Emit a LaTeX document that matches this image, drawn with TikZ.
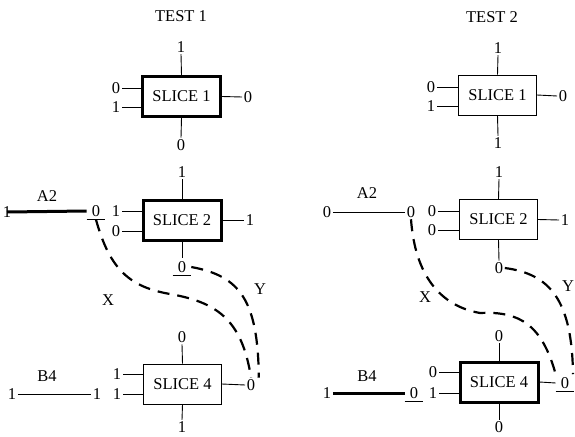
\documentclass[tikz,border=0pt]{standalone}
\usepackage{fontspec}
\setmainfont{Liberation Serif}
\begin{document}
\begin{tikzpicture}[x=1pt,y=-1pt,
  every node/.style={font=\fontsize{16.5}{16.5}\selectfont},
  lbl/.style={inner sep=1.5pt},
  ul/.style={inner xsep=5pt,inner ysep=3pt},
  slice/.style={draw,line width=0.9pt,minimum width=78pt,minimum height=40pt,inner sep=0pt},
  hot/.style={line width=3pt},
  pin/.style={line width=0.9pt},
  bus/.style={line width=3pt},
  wire/.style={line width=0.9pt},
  dsh/.style={line width=2.2pt,dash pattern=on 12pt off 8pt}]
\useasboundingbox (0,0) rectangle (575,436);

% ================= TEST 1 =================
\node (t1) at (181,16) {TEST 1};
% Slice 1
\node[slice,hot] (a1) at (181.5,96.5) {SLICE 1};
\node[lbl] (a1t) at (181,47) {1};
\node[lbl] (a1b) at (181,145) {0};
\node[lbl] (a1l1) at (116,88) {0};
\node[lbl] (a1l2) at (116,107) {1};
\node[lbl] (a1r) at (248,97) {0};
\draw[pin] (a1.north) -- (a1t.south);
\draw[pin] (a1.south) -- (a1b.north);
\draw[pin] (a1.west |- a1l1) -- (a1l1.east);
\draw[pin] (a1.west |- a1l2) -- (a1l2.east);
\draw[pin] (a1.east) -- (a1r.west);
% Slice 2
\node[slice,hot] (a2) at (182,220) {SLICE 2};
\node[lbl] (a2t) at (182,172) {1};
\node[lbl,ul] (a2b) at (182,267) {0};
\node[lbl] (a2l1) at (116,211) {1};
\node[lbl] (a2l2) at (116,231) {0};
\node[lbl] (a2r) at (250,220) {1};
\draw[pin] (a2.north) -- (a2t.south);
\draw[pin] (a2.south) -- (a2b.north);
\draw[pin] (a2b.south west) -- (a2b.south east);
\draw[pin] (a2.west |- a2l1) -- (a2l1.east);
\draw[pin] (a2.west |- a2l2) -- (a2l2.east);
\draw[pin] (a2.east) -- (a2r.west);
% A2
\node (a2name) at (47,196) {A2};
\node[lbl] (a2in) at (7,212) {1};
\node[lbl,ul] (a2out) at (96,211) {0};
\draw[bus] (a2in.center) -- (a2out.west);
\draw[pin] (a2out.south west) -- (a2out.south east);
% Slice 4
\node[slice] (a4) at (182.5,384) {SLICE 4};
\node[lbl] (a4t) at (182,337) {0};
\node[lbl] (a4b) at (182,427) {1};
\node[lbl] (a4l1) at (117,374) {1};
\node[lbl] (a4l2) at (117,394) {1};
\node[lbl] (a4r) at (251,385) {0};
\draw[pin] (a4.north) -- (a4t.south);
\draw[pin] (a4.south) -- (a4b.north);
\draw[pin] (a4.west |- a4l1) -- (a4l1.east);
\draw[pin] (a4.west |- a4l2) -- (a4l2.east);
\draw[pin] (a4.east) -- (a4r.west);
% B4
\node (b4name) at (47,376) {B4};
\node[lbl] (b4in) at (12,394) {1};
\node[lbl] (b4out) at (97,394) {1};
\draw[wire] (b4in.east) -- (b4out.west);
% dashed paths
\draw[dsh] (a2out.south) .. controls (110,270) and (130,287) .. (170,294)
  .. controls (215,302) and (242,318) .. (a4r.north);
\draw[dsh] (a2b.east) .. controls (240,276) and (258,300) .. ([xshift=2pt]a4r.north east);
\node (x1) at (108,300) {X};
\node (y1) at (260,289) {Y};

% ================= TEST 2 =================
\node (t2) at (492,17) {TEST 2};
% Slice 1
\node[slice] (b1) at (497.5,95) {SLICE 1};
\node[lbl] (b1t) at (498,48) {1};
\node[lbl] (b1b) at (498,143) {1};
\node[lbl] (b1l1) at (431,87) {0};
\node[lbl] (b1l2) at (431,106) {1};
\node[lbl] (b1r) at (563,96) {0};
\draw[pin] (b1.north) -- (b1t.south);
\draw[pin] (b1.south) -- (b1b.north);
\draw[pin] (b1.west |- b1l1) -- (b1l1.east);
\draw[pin] (b1.west |- b1l2) -- (b1l2.east);
\draw[pin] (b1.east) -- (b1r.west);
% Slice 2
\node[slice] (b2) at (498.5,219.5) {SLICE 2};
\node[lbl] (b2t) at (499,172) {1};
\node[lbl] (b2b) at (499,268) {0};
\node[lbl] (b2l1) at (432,211) {0};
\node[lbl] (b2l2) at (432,230) {0};
\node[lbl] (b2r) at (565,220) {1};
\draw[pin] (b2.north) -- (b2t.south);
\draw[pin] (b2.south) -- (b2b.north);
\draw[pin] (b2.west |- b2l1) -- (b2l1.east);
\draw[pin] (b2.west |- b2l2) -- (b2l2.east);
\draw[pin] (b2.east) -- (b2r.west);
% A2
\node (b2name) at (367,193) {A2};
\node[lbl] (b2in) at (327,212) {0};
\node[lbl] (b2out) at (411,212) {0};
\draw[wire] (b2in.east) -- (b2out.west);
% Slice 4
\node[slice,hot] (b4) at (499,382) {SLICE 4};
\node[lbl] (b4t) at (499,336) {0};
\node[lbl] (b4b) at (499,427) {0};
\node[lbl] (b4l1) at (433,372) {0};
\node[lbl] (b4l2) at (433,393) {1};
\node[lbl,ul] (b4r) at (565,383) {0};
\draw[pin] (b4.north) -- (b4t.south);
\draw[pin] (b4.south) -- (b4b.north);
\draw[pin] (b4.west |- b4l1) -- (b4l1.east);
\draw[pin] (b4.west |- b4l2) -- (b4l2.east);
\draw[pin] (b4.east) -- (b4r.west);
\draw[pin] (b4r.south west) -- (b4r.south east);
% B4
\node (b4name2) at (367,376) {B4};
\node[lbl] (c4in) at (327,393) {1};
\node[lbl,ul] (c4out) at (414,393) {0};
\draw[bus] (c4in.east) -- (c4out.west);
\draw[pin] (c4out.south west) -- (c4out.south east);
% dashed paths
\draw[dsh] (b2out.south) .. controls (415,275) and (440,306) .. (480,313)
  .. controls (520,311) and (542,325) .. (b4r.north west);
\draw[dsh] (b2b.east) .. controls (550,274) and (572,300) .. ([xshift=8pt]b4r.north);
\node (x2) at (425,297) {X};
\node (y2) at (568,286) {Y};
\end{tikzpicture}
\end{document}
